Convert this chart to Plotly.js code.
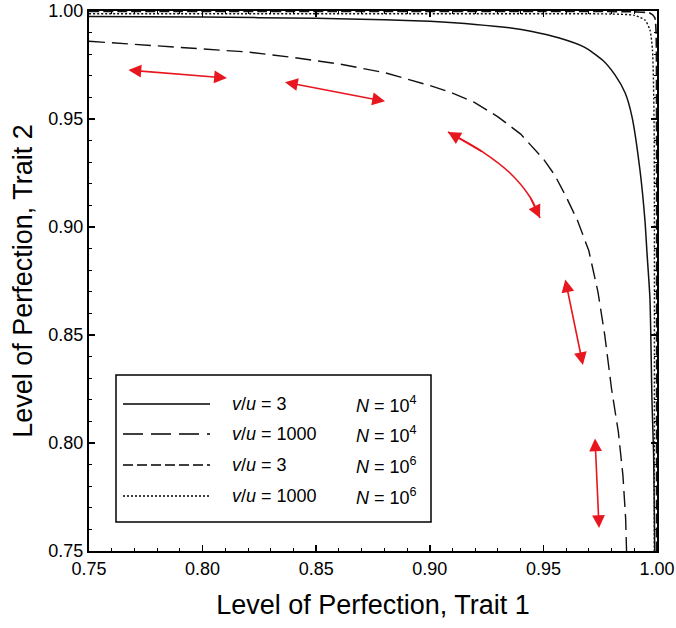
<!DOCTYPE html>
<html>
<head>
<meta charset="utf-8">
<script src="https://cdn.plot.ly/plotly-3.0.1.min.js"></script>
<style>html,body{margin:0;padding:0;background:#fff;}#chart{width:676px;height:628px;}</style>
</head>
<body>
<div id="chart"></div>
<script>
// ---- data ----
// v/u = 3, N = 1e4 (solid)
const solidX = [0.75, 0.80, 0.85, 0.88, 0.90, 0.92, 0.935, 0.945, 0.957, 0.968, 0.976, 0.9815, 0.986, 0.989, 0.9925, 0.9947, 0.9956, 0.9969, 0.9978, 0.9985, 0.9988, 0.999];
const solidY = [0.9975, 0.9972, 0.9966, 0.996, 0.9952, 0.9938, 0.9922, 0.9905, 0.9875, 0.9833, 0.9773, 0.9704, 0.962, 0.951, 0.9264, 0.903, 0.888, 0.8667, 0.819, 0.795, 0.77, 0.75];
// v/u = 1000, N = 1e4 (long dash)
const longDashX = [0.75, 0.76, 0.78, 0.80, 0.82, 0.84, 0.86, 0.88, 0.90, 0.91, 0.92, 0.93, 0.94, 0.95, 0.955, 0.96, 0.965, 0.97, 0.974, 0.977, 0.980, 0.983, 0.985, 0.9862, 0.9866];
const longDashY = [0.986, 0.9853, 0.984, 0.9825, 0.981, 0.9785, 0.9755, 0.9715, 0.9655, 0.962, 0.9575, 0.951, 0.943, 0.9315, 0.924, 0.914, 0.903, 0.889, 0.870, 0.850, 0.825, 0.805, 0.785, 0.765, 0.75];
// v/u = 3, N = 1e6 (short dash)
const shortDashX = [0.75, 0.95, 0.99, 0.997, 0.999, 0.9996, 0.9998, 0.9998];
const shortDashY = [0.9998, 0.9998, 0.9996, 0.999, 0.997, 0.99, 0.95, 0.75];
// v/u = 1000, N = 1e6 (dotted)
const dottedX = [0.75, 0.90, 0.98, 0.99, 0.9947, 0.9969, 0.998, 0.9987, 0.9988];
const dottedY = [0.9987, 0.9987, 0.9986, 0.998, 0.9958, 0.9912, 0.982, 0.95, 0.75];

// straight red double arrows (start / end)
const arrowX0 = [0.7667, 0.8356, 0.9595, 0.9727];
const arrowY0 = [0.9727, 0.9672, 0.8764, 0.8028];
const arrowX1 = [0.8107, 0.8803, 0.9674, 0.9745];
const arrowY1 = [0.9690, 0.9582, 0.8361, 0.7606];
// curved red double arrow
const curveArrowX = [0.9080, 0.9234, 0.9353, 0.9441, 0.9485];
const curveArrowY = [0.9440, 0.9347, 0.9250, 0.9139, 0.9042];

const tickVals = [0.75, 0.80, 0.85, 0.90, 0.95, 1.00];
const tickText = ['0.75', '0.80', '0.85', '0.90', '0.95', '1.00'];

const legendLabels = ['<i>v</i>/<i>u</i> = 3', '<i>v</i>/<i>u</i> = 1000', '<i>v</i>/<i>u</i> = 3', '<i>v</i>/<i>u</i> = 1000'];
const legendN = ['<i>N</i> = 10<sup>4</sup>', '<i>N</i> = 10<sup>4</sup>', '<i>N</i> = 10<sup>6</sup>', '<i>N</i> = 10<sup>6</sup>'];
const legendDash = ['solid', '20px,8px', '10px,4px', '2px,2px'];

// ---- figure ----
const FONT = 'Arial, "Liberation Sans", sans-serif';
const RED = '#e8161e';

const traces = [
  {x: longDashX, y: longDashY, mode: 'lines', line: {color: '#111', width: 1.4, dash: '16px,7px'}, hoverinfo: 'skip'},
  {x: solidX, y: solidY, mode: 'lines', line: {color: '#111', width: 1.5, shape: 'spline', smoothing: 0.6}, hoverinfo: 'skip'},
  {x: dottedX, y: dottedY, mode: 'lines', line: {color: '#111', width: 1.4, dash: '2px,2px', shape: 'spline', smoothing: 0.6}, hoverinfo: 'skip'},
  {x: shortDashX, y: shortDashY, mode: 'lines', line: {color: '#111', width: 1.6, dash: '10px,4px', shape: 'spline', smoothing: 0.6}, hoverinfo: 'skip'},
  {x: curveArrowX, y: curveArrowY, mode: 'lines', line: {color: RED, width: 1.6, shape: 'spline'}, hoverinfo: 'skip'}
];

const L = 89, R = 657, T = 11, B = 551;
const px2paperX = p => (p - L) / (R - L);
const px2paperY = p => (B - p) / (B - T);

const annotations = [];
const shapes = [];
for (let i = 0; i < arrowX0.length; i++) {
  annotations.push({
    x: arrowX1[i], y: arrowY1[i], ax: arrowX0[i], ay: arrowY0[i],
    xref: 'x', yref: 'y', axref: 'x', ayref: 'y', text: '', showarrow: true,
    arrowside: 'end+start', arrowhead: 2, startarrowhead: 2, arrowsize: 1.6, startarrowsize: 1.6,
    arrowwidth: 1.6, arrowcolor: RED, standoff: 0, startstandoff: 0
  });
}
// heads of the curved arrow, along the curve ends
const nC = curveArrowX.length;
annotations.push({x: curveArrowX[0], y: curveArrowY[0], ax: curveArrowX[1], ay: curveArrowY[1],
  xref: 'x', yref: 'y', axref: 'x', ayref: 'y', text: '', showarrow: true, arrowhead: 2, arrowsize: 1.6,
  arrowwidth: 1.6, arrowcolor: RED, standoff: 0});
annotations.push({x: curveArrowX[nC - 1], y: curveArrowY[nC - 1], ax: curveArrowX[nC - 2], ay: curveArrowY[nC - 2],
  xref: 'x', yref: 'y', axref: 'x', ayref: 'y', text: '', showarrow: true, arrowhead: 2, arrowsize: 1.6,
  arrowwidth: 1.6, arrowcolor: RED, standoff: 0});

// legend box
shapes.push({type: 'rect', xref: 'paper', yref: 'paper', x0: px2paperX(116), x1: px2paperX(431),
  y0: px2paperY(522), y1: px2paperY(375), line: {color: '#000', width: 1.5}, fillcolor: '#fff', layer: 'above'});
const rowY = [404, 434, 465, 496];
for (let i = 0; i < 4; i++) {
  shapes.push({type: 'line', xref: 'paper', yref: 'paper', x0: px2paperX(123), x1: px2paperX(210),
    y0: px2paperY(rowY[i]), y1: px2paperY(rowY[i]), line: {color: '#000', width: i === 3 ? 1.3 : 1.5, dash: legendDash[i]}, layer: 'above'});
  annotations.push({xref: 'paper', yref: 'paper', x: px2paperX(230), y: px2paperY(rowY[i]), xanchor: 'left', yanchor: 'middle',
    text: legendLabels[i], showarrow: false, font: {family: FONT, size: 18, color: '#000'}});
  annotations.push({xref: 'paper', yref: 'paper', x: px2paperX(419), y: px2paperY(rowY[i]), xanchor: 'right', yanchor: 'middle',
    text: legendN[i], showarrow: false, font: {family: FONT, size: 18, color: '#000'}});
}

const axisCommon = {
  range: [0.75, 1.0], tickvals: tickVals, ticktext: tickText, ticks: 'inside', ticklen: 6, tickwidth: 1.5, tickcolor: '#000',
  minor: {dtick: 0.01, tick0: 0.75, ticks: 'inside', ticklen: 3, tickwidth: 1, tickcolor: '#000', showgrid: false},
  showline: true, linecolor: '#000', linewidth: 2, mirror: 'allticks', showgrid: false, zeroline: false,
  tickfont: {family: FONT, size: 18, color: '#000'}, fixedrange: true
};

const layout = {
  width: 676, height: 628,
  margin: {l: L, r: 676 - R, t: T, b: 628 - B},
  paper_bgcolor: '#fff', plot_bgcolor: '#fff', showlegend: false,
  xaxis: Object.assign({}, axisCommon, {title: {text: 'Level of Perfection, Trait 1', font: {family: FONT, size: 27, color: '#000'}, standoff: 18}}),
  yaxis: Object.assign({}, axisCommon, {title: {text: 'Level of Perfection, Trait 2', font: {family: FONT, size: 27, color: '#000'}, standoff: 8}}),
  shapes: shapes, annotations: annotations
};

Plotly.newPlot('chart', traces, layout, {staticPlot: true, displayModeBar: false});
</script>
</body>
</html>
